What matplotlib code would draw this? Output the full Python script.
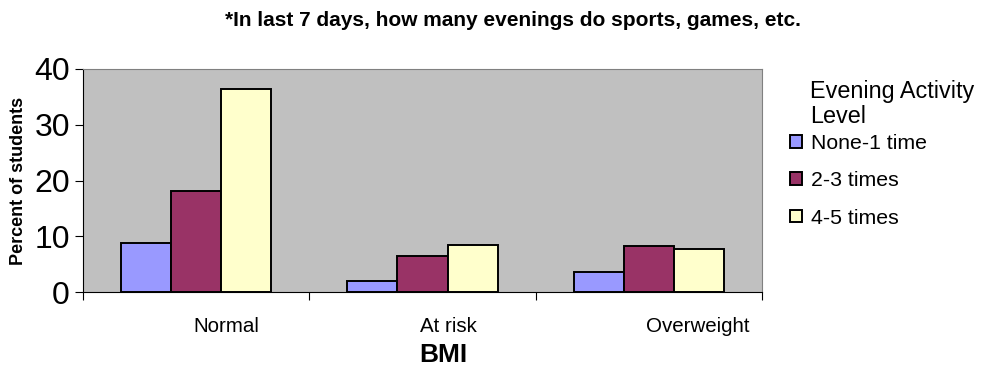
import matplotlib
matplotlib.use("Agg")
import matplotlib.pyplot as plt
import numpy as np

plt.rcParams['font.family'] = ['Liberation Sans', 'DejaVu Sans']

categories = ["Normal", "At risk", "Overweight"]
series_names = ["None-1 time", "2-3 times", "4-5 times"]
none_1 = [8.8, 2.0, 3.5]
two_3 = [18.1, 6.4, 8.2]
four_5 = [36.5, 8.5, 7.8]
series = [none_1, two_3, four_5]
colors = ["#9999FF", "#993366", "#FFFFCC"]
y_ticks = [0, 10, 20, 30, 40]

W, H = 984, 392
fig = plt.figure(figsize=(W / 100, H / 100), dpi=100)
ax = fig.add_axes([83 / W, 100 / H, 679 / W, 223 / H])
ax.set_facecolor("#C0C0C0")

x = np.arange(len(categories))
w = 0.221
for i, (vals, col, name) in enumerate(zip(series, colors, series_names)):
    ax.bar(x + (i - 1) * w, vals, width=w, color=col, edgecolor="black",
           linewidth=1.4, label=name, zorder=3)

ax.set_xlim(-0.5, len(categories) - 0.5)
ax.set_ylim(0, 40)
ax.set_yticks(y_ticks)
ax.set_yticklabels([str(t) for t in y_ticks], fontsize=23)
ax.tick_params(axis='y', direction='out', length=5.5, width=0.8, pad=4)

# tick marks sit on the category boundaries; names start at the group centres
ax.set_xticks(np.arange(len(categories) + 1) - 0.5)
ax.set_xticklabels([])
ax.tick_params(axis='x', direction='out', length=6, width=0.8)
for xi, name in zip(x, categories):
    ax.text(xi - 0.013, -35 / 223, name, transform=ax.get_xaxis_transform(),
            ha='left', va='center', fontsize=14.8)

for s in ("top", "right"):
    ax.spines[s].set_color("#808080")
for s in ("left", "bottom"):
    ax.spines[s].set_color("black")

ax.set_ylabel("Percent of students", fontsize=13, fontweight='bold')
ax.yaxis.set_label_coords(-0.082, 0.5)
fig.text(443 / W, 1 - 355 / H, "BMI", ha='center', va='center',
         fontsize=19, fontweight='bold')
fig.text(513 / W, 1 - 20 / H,
         "*In last 7 days, how many evenings do sports, games, etc.",
         ha='center', va='center', fontsize=15, fontweight='bold')

fig.text(810 / W, 1 - 104 / H, "Evening Activity\nLevel", ha='left',
         va='center', fontsize=16.8, linespacing=1.12)
ax.legend(loc='upper left', bbox_to_anchor=(790 / W, 1 - 134 / H),
          bbox_transform=fig.transFigure, frameon=False,
          fontsize=15.3, handlelength=0.55, handleheight=0.55,
          handletextpad=0.42, labelspacing=0.86, borderaxespad=0,
          borderpad=0)

fig.savefig("out.png", dpi=100)
